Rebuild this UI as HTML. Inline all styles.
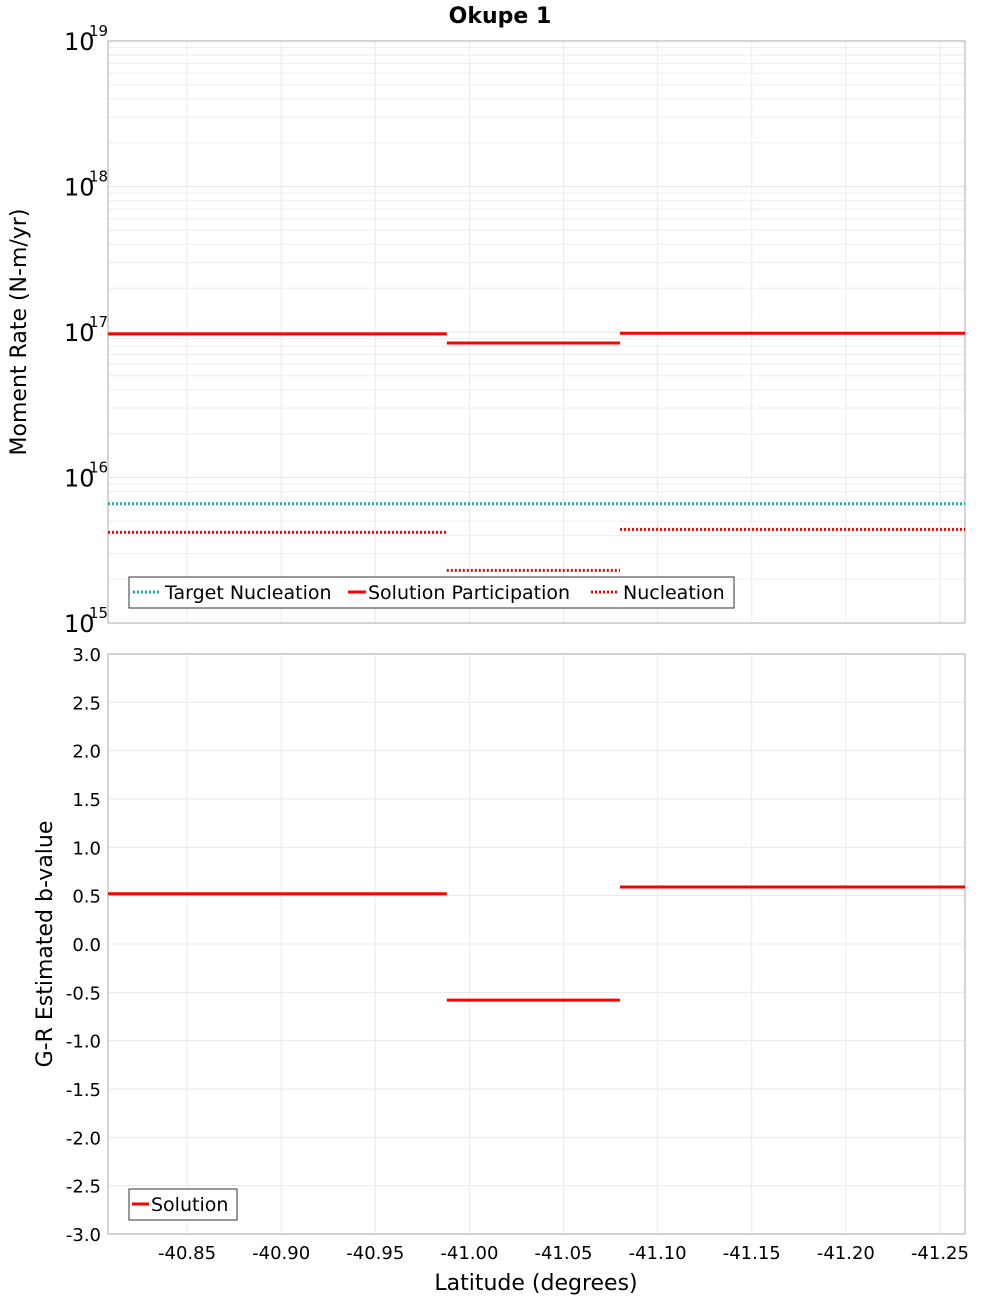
<!DOCTYPE html>
<html><head><meta charset="utf-8"><style>
body{margin:0;background:#fff;font-family:"Liberation Sans","DejaVu Sans",sans-serif}
svg text{font-family:"DejaVu Sans","Liberation Sans",sans-serif}
</style></head><body>
<svg id="c" width="1000" height="1300" xmlns="http://www.w3.org/2000/svg"></svg>
<script>
const segStart=[-40.808,-40.988,-41.080];
const segEnd=[-40.988,-41.080,-41.2633];
const participation=[9.7e16,8.4e16,9.8e16];
const nucleation=[4.2e15,2.3e15,4.4e15];
const targetNucleation=6.6e15;
const bValues=[0.52,-0.58,0.59];
const xTicks=[-40.85,-40.90,-40.95,-41.00,-41.05,-41.10,-41.15,-41.20,-41.25];
const bTicks=[3,2.5,2,1.5,1,0.5,0,-0.5,-1,-1.5,-2,-2.5,-3];
const decades=[15,16,17,18,19];

const svg=document.getElementById('c');
const NS='http://www.w3.org/2000/svg';
function mk(t,a,txt){const e=document.createElementNS(NS,t);for(const k in a)e.setAttribute(k,a[k]);if(txt!==undefined)e.textContent=txt;svg.appendChild(e);return e;}
const L=108,R=965,xMin=-40.808,xMax=-41.2633;
const X=v=>L+(v-xMin)/(xMax-xMin)*(R-L);
const T1=41,B1=623,Y1=v=>B1-(Math.log10(v)-15)/4*(B1-T1);
const T2=654,B2=1234,Y2=v=>B2-(v+3)/6*(B2-T2);

let e=mk('text',{x:500,y:23,'text-anchor':'middle','font-size':22,'font-weight':'bold'},'Okupe 1');


for(let d=15;d<19;d++)for(let m=1;m<10;m++){const y=Y1(m*Math.pow(10,d));
 e=mk('line',{x1:L,x2:R,y1:y,y2:y,stroke:m==1?'#e4e4e4':'#eeeeee','stroke-width':1});}
xTicks.forEach(t=>{[[T1,B1],[T2,B2]].forEach(([a,b])=>{e=mk('line',{x1:X(t),x2:X(t),y1:a,y2:b,stroke:'#eaeaea'});});});
bTicks.forEach(t=>{e=mk('line',{x1:L,x2:R,y1:Y2(t),y2:Y2(t),stroke:'#eaeaea'});});
e=mk('rect',{x:L,y:T1,width:R-L,height:B1-T1,fill:'none',stroke:'#aaa'});
e=mk('rect',{x:L,y:T2,width:R-L,height:B2-T2,fill:'none',stroke:'#aaa'});

decades.forEach(d=>{const y=Y1(Math.pow(10,d));
 e=mk('text',{x:64,y:y+9,'font-size':24},'10');
 e=mk('text',{x:89,y:y-5,'font-size':15},String(d));});
bTicks.forEach(t=>{e=mk('text',{x:101,y:Y2(t)+7,'text-anchor':'end','font-size':18},t.toFixed(1));});
xTicks.forEach(t=>{e=mk('text',{x:X(t),y:1259,'text-anchor':'middle','font-size':18},t.toFixed(2));});

e=mk('text',{x:0,y:0,'font-size':22,'text-anchor':'middle',transform:'translate(26,332) rotate(-90)'},'Moment Rate (N-m/yr)');
e=mk('text',{x:0,y:0,'font-size':22,'text-anchor':'middle',transform:'translate(52,944) rotate(-90)'},'G-R Estimated b-value');
e=mk('text',{x:536,y:1290,'font-size':22,'text-anchor':'middle'},'Latitude (degrees)');

e=mk('line',{x1:L,x2:R,y1:Y1(targetNucleation),y2:Y1(targetNucleation),stroke:'#1aa8a8','stroke-width':3,'stroke-dasharray':'2 2'});
for(let i=0;i<3;i++){
 e=mk('line',{x1:X(segStart[i]),x2:X(segEnd[i]),y1:Y1(participation[i]),y2:Y1(participation[i]),stroke:'#f00','stroke-width':3});
 e=mk('line',{x1:X(segStart[i]),x2:X(segEnd[i]),y1:Y1(nucleation[i]),y2:Y1(nucleation[i]),stroke:'#f00','stroke-width':3,'stroke-dasharray':'2 2'});
 e=mk('line',{x1:X(segStart[i]),x2:X(segEnd[i]),y1:Y2(bValues[i]),y2:Y2(bValues[i]),stroke:'#f00','stroke-width':3});
}
e=mk('rect',{x:129,y:577,width:605,height:31,fill:'#fff',stroke:'#333'});
e=mk('line',{x1:133,x2:161,y1:592,y2:592,stroke:'#1aa8a8','stroke-width':3,'stroke-dasharray':'2 2'});
e=mk('text',{x:165,y:599,'font-size':19},'Target Nucleation');
e=mk('line',{x1:348,x2:366,y1:592,y2:592,stroke:'#f00','stroke-width':3});
e=mk('text',{x:368,y:599,'font-size':19},'Solution Participation');
e=mk('line',{x1:591,x2:619,y1:592,y2:592,stroke:'#f00','stroke-width':3,'stroke-dasharray':'2 2'});
e=mk('text',{x:623,y:599,'font-size':19},'Nucleation');
e=mk('rect',{x:129,y:1189,width:108,height:31,fill:'#fff',stroke:'#333'});
e=mk('line',{x1:132,x2:149,y1:1204,y2:1204,stroke:'#f00','stroke-width':3});
e=mk('text',{x:151,y:1211,'font-size':19},'Solution');
</script>
</body></html>
